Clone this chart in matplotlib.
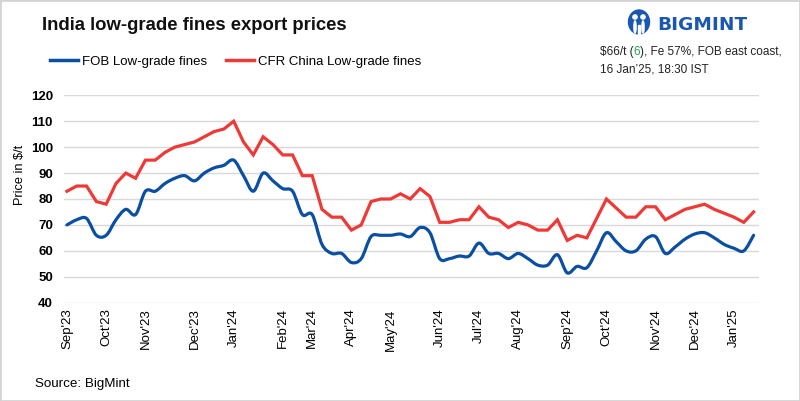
import numpy as np
import matplotlib
matplotlib.use("Agg")
import matplotlib.pyplot as plt
from matplotlib.path import Path
from matplotlib.patches import PathPatch, Ellipse, Rectangle
from matplotlib.lines import Line2D

plt.rcParams['font.family'] = ['Liberation Sans', 'DejaVu Sans']

# weekly prices, $/t
fob = [70, 72, 72.5, 66, 66, 72, 76, 74, 83, 83, 86, 88, 89, 87, 90, 92, 93, 95,
       89, 83, 90, 87, 84, 83, 74, 74, 62.5, 59, 59, 55.5, 57, 65.5, 66, 66, 66.5,
       65.5, 69, 67, 57, 57, 58, 58, 63, 59, 59, 57, 59, 57, 54.5, 54.5, 58.5, 51.5,
       54, 53.5, 60, 67, 63.5, 60, 60, 64.5, 65.5, 59, 61.5, 64.5, 66.5, 67, 65,
       62.5, 61, 60, 66]
cfr = [83, 85, 85, 79, 78, 86, 90, 88, 95, 95, 98, 100, 101, 102, 104, 106, 107, 110,
       102, 97, 104, 101, 97, 97, 89, 89, 76, 73, 73, 68, 70, 79, 80, 80, 82,
       80, 84, 81, 71, 71, 72, 72, 77, 73, 72, 69, 71, 70, 68, 68, 72, 64,
       66, 65, 72.5, 80, 76.5, 73, 73, 77, 77, 72, 74, 76, 77, 78, 76,
       74.5, 73, 71, 75]
tick_pos = [0, 4, 8, 13, 17, 22, 25, 29, 33, 38, 42, 46, 51, 55, 60, 64, 68]
tick_labels = ["Sep'23", "Oct'23", "Nov'23", "Dec'23", "Jan'24", "Feb'24", "Mar'24",
               "Apr'24", "May'24", "Jun'24", "Jul'24", "Aug'24", "Sep'24", "Oct'24",
               "Nov'24", "Dec'24", "Jan'25"]

blue = '#0b4fa3'
red = '#ee3a37'

W, H = 800, 401
fig = plt.figure(figsize=(8, 4.01), dpi=100)
ax = fig.add_axes([64 / W, 1 - 302.7 / H, 695 / W, 207.4 / H])

x = np.arange(len(fob))

# smoothed FOB line (catmull-rom as bezier curves)
verts = [(x[0], fob[0])]
codes = [Path.MOVETO]
n = len(fob)
for i in range(n - 1):
    p0 = np.array([x[max(i - 1, 0)], fob[max(i - 1, 0)]])
    p1 = np.array([x[i], fob[i]])
    p2 = np.array([x[i + 1], fob[i + 1]])
    p3 = np.array([x[min(i + 2, n - 1)], fob[min(i + 2, n - 1)]])
    c1 = p1 + (p2 - p0) / 6
    c2 = p2 - (p3 - p1) / 6
    verts += [tuple(c1), tuple(c2), tuple(p2)]
    codes += [Path.CURVE4] * 3
ax.add_patch(PathPatch(Path(verts, codes), fill=False, edgecolor=blue, lw=2.3,
                       capstyle='round', joinstyle='round', zorder=3))
ax.plot(x, cfr, color=red, lw=2.3, zorder=3, solid_joinstyle='miter')

ax.set_xlim(-0.3, 70.55)
ax.set_ylim(40, 120)
ax.set_yticks(range(40, 121, 10))
ax.grid(axis='y', color='#d9d9d9', lw=1)
ax.set_axisbelow(True)
for s in ax.spines.values():
    s.set_visible(False)
ax.set_xticks(tick_pos)
ax.set_xticklabels(tick_labels, rotation=90, fontsize=9.5)
ax.tick_params(axis='x', length=0, pad=4)
ax.tick_params(axis='y', length=0, pad=8, labelsize=9.5)
for t in ax.get_yticklabels():
    t.set_fontweight('bold')
ax.set_ylabel('Price in $/t', fontsize=9.2)
ax.yaxis.set_label_coords(-38 / 695, 0.615)

# title, legend, source
fig.text(42 / W, 1 - 25 / H, 'India low-grade fines export prices', fontsize=13.3,
         fontweight='bold', va='center', color='#111111')
handles = [Line2D([], [], color=blue, lw=2.5), Line2D([], [], color=red, lw=2.5)]
fig.legend(handles, ['FOB Low-grade fines', 'CFR China Low-grade fines'], ncol=2,
           loc='center left', bbox_to_anchor=(38 / W, 1 - 62 / H), frameon=False,
           fontsize=9.5, handlelength=2.1, handletextpad=0.3, columnspacing=1.5)
fig.text(35 / W, 1 - 384 / H, 'Source: BigMint', fontsize=9.6, va='center')

# price note with coloured change
renderer = fig.canvas.get_renderer()
parts = [('$66/t (', '#222222'), ('6', '#1fa84a'), ('), Fe 57%, FOB east coast,', '#222222')]
px = 600
for s, c in parts:
    t = fig.text(px / W, 1 - 52 / H, s, fontsize=8.5, color=c, va='center')
    px = t.get_window_extent(renderer).x1
fig.text(600 / W, 1 - 69 / H, '16 Jan\u201925, 18:30 IST', fontsize=8.5, color='#222222',
         va='center')

# BIGMINT logo
lax = fig.add_axes([627 / W, 1 - 37 / H, 24 / W, 28 / H])
lax.set_xlim(0, 24)
lax.set_ylim(0, 28)
lax.axis('off')
lax.add_patch(Ellipse((12, 15), 21, 24, color='#1a57b0'))
for cx in (8, 16):
    lax.add_patch(Ellipse((cx, 20), 4.2, 4.2, color='white'))
    lax.add_patch(Ellipse((cx, 10), 2.2, 12, color='white'))
lax.add_patch(Rectangle((11, 0), 2, 12, color='white'))
fig.text(657 / W, 1 - 25 / H, 'BIGMINT', fontsize=13.3, fontweight='bold',
         color='#1a57b0', va='center', family='DejaVu Sans')

fig.patches.append(Rectangle((0, 0), 1, 1, transform=fig.transFigure, fill=False,
                             edgecolor='#d4d4d4', lw=2))

fig.savefig('out.png', dpi=100)
